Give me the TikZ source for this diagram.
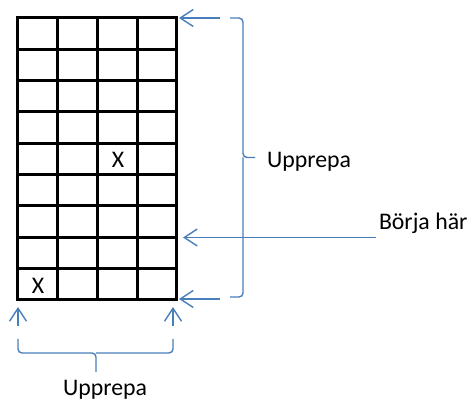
\documentclass[tikz,border=0pt]{standalone}
\usepackage{fontspec}
\setmainfont{Carlito}
\usetikzlibrary{arrows.meta}
\definecolor{wordblue}{HTML}{4A7EBB}
\tikzset{
  blueline/.style={draw=wordblue, line width=1.4pt},
  arr/.style={blueline, -{Straight Barb[length=13pt,width=17pt,line width=1.4pt]}},
  gridline/.style={draw=black, line width=3pt},
  lbl/.style={inner sep=0pt, outer sep=0pt, font=\fontsize{23.8}{26}\selectfont, text=black},
}
\begin{document}
\begin{tikzpicture}[x=1pt,y=-1pt]
\useasboundingbox (0,0) rectangle (469,403);
% grid
\foreach \i in {0,...,9} {
  \draw[gridline, line cap=rect] (17,{18+\i*31.33}) -- (176,{18+\i*31.33});
}
\foreach \x in {17,57,97,137,176} {
  \draw[gridline, line cap=rect] (\x,18) -- (\x,300);
}
\node[lbl, anchor=base] (x1) at (118,168) {X};
\node[lbl, anchor=base] (x2) at (38,294) {X};
% coordinates
\coordinate (tr) at (179,18);
\coordinate (br) at (179,299);
\coordinate (mr) at (183,237.5);
\coordinate (bl) at (18,307);
\coordinate (bb) at (173,307);
\coordinate (trs) at (220,18);
\coordinate (brs) at (220,299);
\coordinate (bls) at (18,326);
\coordinate (bbs) at (173,326);
% labels
\node[lbl, anchor=base west] (upr) at (267,168) {Upprepa};
\node[lbl, anchor=base west] (start) at (379,230) {Börja här};
\node[lbl, anchor=base west] (upb) at (63,396) {Upprepa};
\coordinate (starts) at (376,237.5);
% arrows
\draw[arr] (trs) -- (tr);
\draw[arr] (brs) -- (br);
\draw[arr] (starts) -- (mr);
\draw[arr] (bls) -- (bl);
\draw[arr] (bbs) -- (bb);
% right brace
\draw[blueline, rounded corners=4pt] (230,18) -| (243,157.5) -- (255,157.5);
\draw[blueline, rounded corners=4pt] (230,297) -| (243,157.5);
% bottom brace
\draw[blueline, rounded corners=4pt] (18,339) |- (96,353) -- (96,372);
\draw[blueline, rounded corners=4pt] (173,339) |- (96,353);
\end{tikzpicture}
\end{document}
